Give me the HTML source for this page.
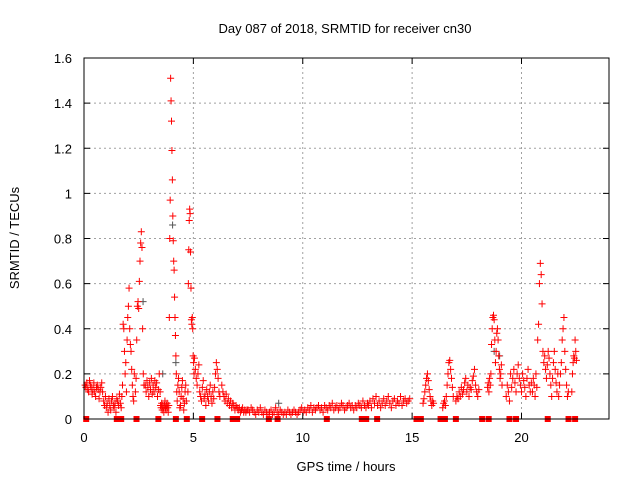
<!DOCTYPE html>
<html><head><meta charset="utf-8"><style>
body{margin:0;background:#fff;font-family:"Liberation Sans",sans-serif}
svg text{font-family:"Liberation Sans",sans-serif;font-size:13px;fill:#000}
</style></head><body>
<svg id="c" width="640" height="480" xmlns="http://www.w3.org/2000/svg">
<rect width="640" height="480" fill="#fff"/>
<g id="grid"></g>
<g id="marks"></g>
<g id="axes"></g>
<text x="345" y="33" text-anchor="middle">Day 087 of 2018, SRMTID for receiver cn30</text>
<text x="346" y="471" text-anchor="middle">GPS time / hours</text>
<text transform="translate(19,238) rotate(-90)" text-anchor="middle">SRMTID / TECUs</text>
</svg>
<script>
const xTicks=[0,5,10,15,20];
const yTicks=[0,0.2,0.4,0.6,0.8,1,1.2,1.4,1.6];
const yTickLabels=["0","0.2","0.4","0.6","0.8","1","1.2","1.4","1.6"];
const clusterStart=[0.05,0.9,1.7,2.35,2.8,3.5,3.9,4.26,4.75,5.05,6.3,7.5,13.0,15.5,16.4,17.0,18.45,19.3,20.5,21.7,22.3];
const clusterStep=[0.04,0.04,0.03,0.03,0.04,0.025,0.02,0.03,0.02,0.04,0.05,0.07,0.07,0.04,0.04,0.05,0.03,0.05,0.04,0.04,0.03];
const clusterValues=[
[.15,.14,.16,.13,.12,.17,.15,.14,.11,.13,.16,.12,.10,.14,.15,.13,.09,.12,.14,.16,.12],
[.08,.06,.10,.05,.07,.03,.09,.06,.04,.08,.10,.06,.05,.07,.03,.09,.08,.06,.11,.07],
[.05,.10,.15,.42,.40,.30,.20,.25,.12,.35,.45,.50,.58,.40,.33,.30,.22,.15,.10,.08,.20],
[.12,.18,.35,.50,.52,.49,.61,.70,.78,.83,.76,.40,.20,.15],
[.15,.12,.17,.14,.10,.16,.13,.18,.11,.15,.12,.17,.14,.16,.10,.13,.20,.12],
[.06,.05,.07,.04,.06,.05,.03,.06,.08,.05,.04,.06,.07,.05,.03,.06],
[.45,.80,.97,1.51,1.41,1.32,1.19,1.06,.90,.79,.70,.66,.54,.45,.37,.28,.20,.12],
[.08,.15,.18,.12,.05,.06,.10,.14,.17,.09,.04,.07,.12,.15,.08],
[.12,.60,.75,.88,.93,.91,.74,.58,.44,.42,.45,.40,.28,.25,.20],
[.27,.22,.18,.15,.20,.24,.12,.10,.08,.14,.17,.09,.11,.06,.13,.10,.08,.12,.15,.10,.07,.12,.09,.14,.20,.25,.22,.18,.12,.10],
[.15,.12,.10,.08,.11,.07,.09,.06,.08,.05,.07,.06,.04,.06,.05,.04,.05,.03,.04,.05,.03,.04,.03,.04],
[.04,.03,.05,.04,.03,.02,.04,.03,.05,.03,.02,.04,.03,.02,.03,.04,.02,.03,.05,.03,.02,.04,.03,.02,.03,.02,.04,.03,.02,.03,.04,.03,.02,.03,.04,.05,.03,.04,.03,.05,.04,.06,.03,.05,.04,.05,.06,.04,.05,.03,.06,.05,.04,.06,.05,.07,.04,.05,.06,.04,.05,.07,.06,.04,.05,.06,.07,.05,.06,.04,.06,.05,.07,.06,.05,.08,.06,.05,.07],
[.06,.08,.05,.09,.07,.10,.06,.08,.05,.07,.09,.06,.08,.10,.07,.05,.08,.09,.06,.08,.07,.10,.06,.08,.09,.07,.08,.09],
[.07,.09,.12,.15,.18,.20,.17,.13,.10,.08,.06,.08,.07],
[.05,.07,.08,.06,.10,.15,.20,.25,.26,.22,.18,.14,.10],
[.08,.10,.09,.12,.10,.14,.11,.13,.16,.18,.12,.15,.10,.14,.13,.17,.19,.22,.15,.12,.10,.13],
[.14,.16,.12,.18,.15,.20,.33,.40,.45,.46,.44,.35,.25,.30,.38,.40,.35,.28,.22,.18,.20,.24,.15],
[.10,.15,.12,.08,.20,.14,.18,.22,.16,.12,.20,.24,.18,.15,.12,.20,.17,.14,.10,.18,.22,.15,.12,.16],
[.12,.18,.15,.10,.20,.14,.35,.42,.60,.69,.64,.51,.30,.25,.28,.22,.18,.24,.30,.27,.20,.15,.10,.18,.25,.30,.22,.16,.12,.20],
[.10,.15,.20,.25,.35,.40,.45,.30,.22,.15,.10,.12],
[.12,.20,.25,.28,.27,.35,.30,.26]
];
const grayTimes=[4.05,2.7,3.6,18.75,8.9,4.2,19.0];
const grayValues=[0.86,0.52,0.2,0.3,0.07,0.25,0.28];
const zeroTimes=[0.1,1.5,1.7,2.4,3.4,4.2,4.7,5.4,6.1,6.8,7.0,8.45,8.85,11.1,12.7,12.9,13.4,15.2,15.4,16.3,16.5,17.0,18.2,18.5,19.45,19.75,21.2,22.15,22.45];
const X0=84,X1=609,Y0=419,Y1=58,XMAX=24,YMAX=1.6;
const sx=t=>X0+t/XMAX*(X1-X0), sy=v=>Y0-v/YMAX*(Y0-Y1);
const NS="http://www.w3.org/2000/svg";
function mk(tag,parent,attrs){const e=document.createElementNS(NS,tag);for(const k in attrs)e.setAttribute(k,attrs[k]);parent.appendChild(e);return e;}
const grid=document.getElementById('grid'),axes=document.getElementById('axes'),marks=document.getElementById('marks');
xTicks.forEach(t=>{const x=sx(t);
 if(t>0){const g=mk('line',grid,{x1:x,x2:x,y1:Y0,y2:Y1,stroke:'#a0a0a0','stroke-dasharray':'2,3'});}
 const a=mk('path',axes,{d:`M${x},${Y0}v-6M${x},${Y1}v6`,stroke:'#000'});
 const l=mk('text',axes,{x:x,y:Y0+23,'text-anchor':'middle'});l.textContent=String(t);});
yTicks.forEach((v,i)=>{const y=sy(v);
 if(v>0&&v<YMAX){const g=mk('line',grid,{x1:X0,x2:X1,y1:y,y2:y,stroke:'#a0a0a0','stroke-dasharray':'2,3'});}
 const a=mk('path',axes,{d:`M${X0},${y}h6M${X1},${y}h-6`,stroke:'#000'});
 const l=mk('text',axes,{x:X0-12,y:y+5,'text-anchor':'end'});l.textContent=yTickLabels[i];});
const f=mk('rect',axes,{x:X0,y:Y1,width:X1-X0,height:Y0-Y1,fill:'none',stroke:'#000'});

function plus(t,v,col){const x=sx(t),y=sy(v);const p=mk('path',marks,{d:`M${x-3.5},${y}h7M${x},${y-3.5}v7`,stroke:col,'stroke-width':1});return p;}
grayTimes.forEach((t,i)=>{const p=plus(t,grayValues[i],'#555');});
clusterValues.forEach((vals,c)=>vals.forEach((v,i)=>{const p=plus(clusterStart[c]+i*clusterStep[c],v,'#ff0000');}));
zeroTimes.forEach(t=>{const r=mk('rect',marks,{x:sx(t)-3,y:Y0-3,width:6,height:6,fill:'#ff0000'});});
</script>
</body></html>
